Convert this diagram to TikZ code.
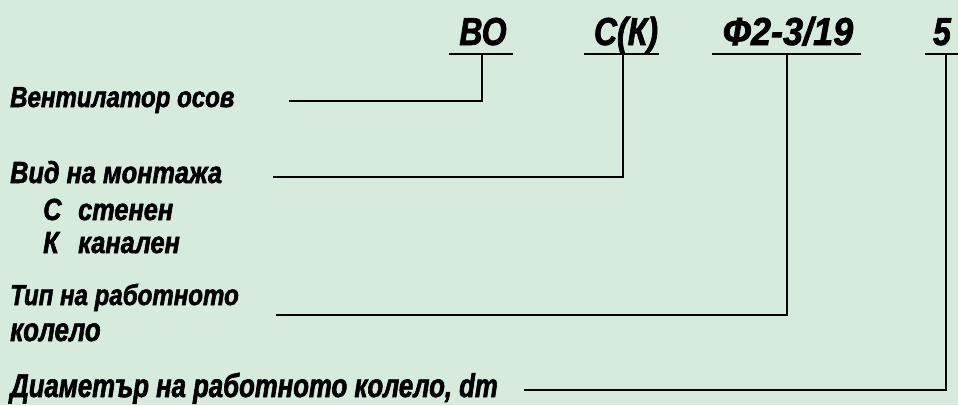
\documentclass[tikz,border=0pt]{standalone}
\usepackage{fontspec}
\newfontfamily\lblfont{Liberation Sans}[FakeStretch=0.83,FakeBold=1.8]
\newfontfamily\biglblfont{Liberation Sans}[FakeStretch=0.78,FakeBold=1.8]
\newfontfamily\codefont{Liberation Sans}[FakeStretch=0.82,FakeBold=1.8]
\newfontfamily\widecodefont{Liberation Sans}[FakeStretch=0.925,FakeBold=1.8]
\definecolor{bgcol}{RGB}{215,235,221}
\tikzset{
  lbl/.style={inner sep=0pt, anchor=base west, font=\lblfont\bfseries\itshape\fontsize{29}{31}\selectfont},
  midlbl/.style={lbl, font=\lblfont\bfseries\itshape\fontsize{30.5}{33}\selectfont},
  biglbl/.style={lbl, font=\biglblfont\bfseries\itshape\fontsize{33}{35}\selectfont},
  code/.style={inner sep=0pt, anchor=base, font=\codefont\bfseries\itshape\fontsize{39}{43}\selectfont},
  widecode/.style={code, font=\widecodefont\bfseries\itshape\fontsize{39}{43}\selectfont},
  wire/.style={line width=2.8pt, line cap=rect, black}
}
\begin{document}
\begin{tikzpicture}[x=1pt,y=-1pt]
\fill[bgcol] (0,0) rectangle (958,405);
\useasboundingbox (0,0) rectangle (958,405);
% codes
\node[code] (bo) at (483,45) {ВО};
\node[code] (ck) at (626,45) {С(К)};
\node[widecode] (ft) at (788,45) {Ф2-3/19};
\node[code] (d5) at (942,45) {5};
% underline coordinates
\coordinate (bo-l) at (450,54); \coordinate (bo-r) at (512,54); \coordinate (bo-u) at (482,54);
\coordinate (ck-l) at (585,54); \coordinate (ck-r) at (658,54); \coordinate (ck-u) at (623,54);
\coordinate (ft-l) at (713,54); \coordinate (ft-r) at (860,54); \coordinate (ft-u) at (787,54);
\coordinate (d5-l) at (926,54); \coordinate (d5-r) at (960,54); \coordinate (d5-u) at (946,54);
% labels
\node[lbl] (t1) at (10,107) {Вентилатор осов};
\node[midlbl] (t2) at (10,183) {Вид на монтажа};
\node[midlbl] (t2a) at (43,220) {\makebox[35pt][l]{С}стенен};
\node[midlbl] (t2b) at (43,253) {\makebox[35pt][l]{К}канален};
\node[lbl] (t3) at (10,305) {Тип на работното};
\node[biglbl] (t3b) at (10,341) {колело};
\node[biglbl] (t4) at (10,397) {Диаметър на работното колело, dm};
% line starts
\coordinate (l1) at (290,101);
\coordinate (l2) at (274,177);
\coordinate (l3) at (277,315);
\coordinate (l4) at (525,390);
% wires
\draw[wire] (bo-l) -- (bo-r);
\draw[wire] (ck-l) -- (ck-r);
\draw[wire] (ft-l) -- (ft-r);
\draw[wire] (d5-l) -- (d5-r);
\draw[wire] (bo-u) |- (l1);
\draw[wire] (ck-u) |- (l2);
\draw[wire] (ft-u) |- (l3);
\draw[wire] (d5-u) |- (l4);
\end{tikzpicture}
\end{document}
